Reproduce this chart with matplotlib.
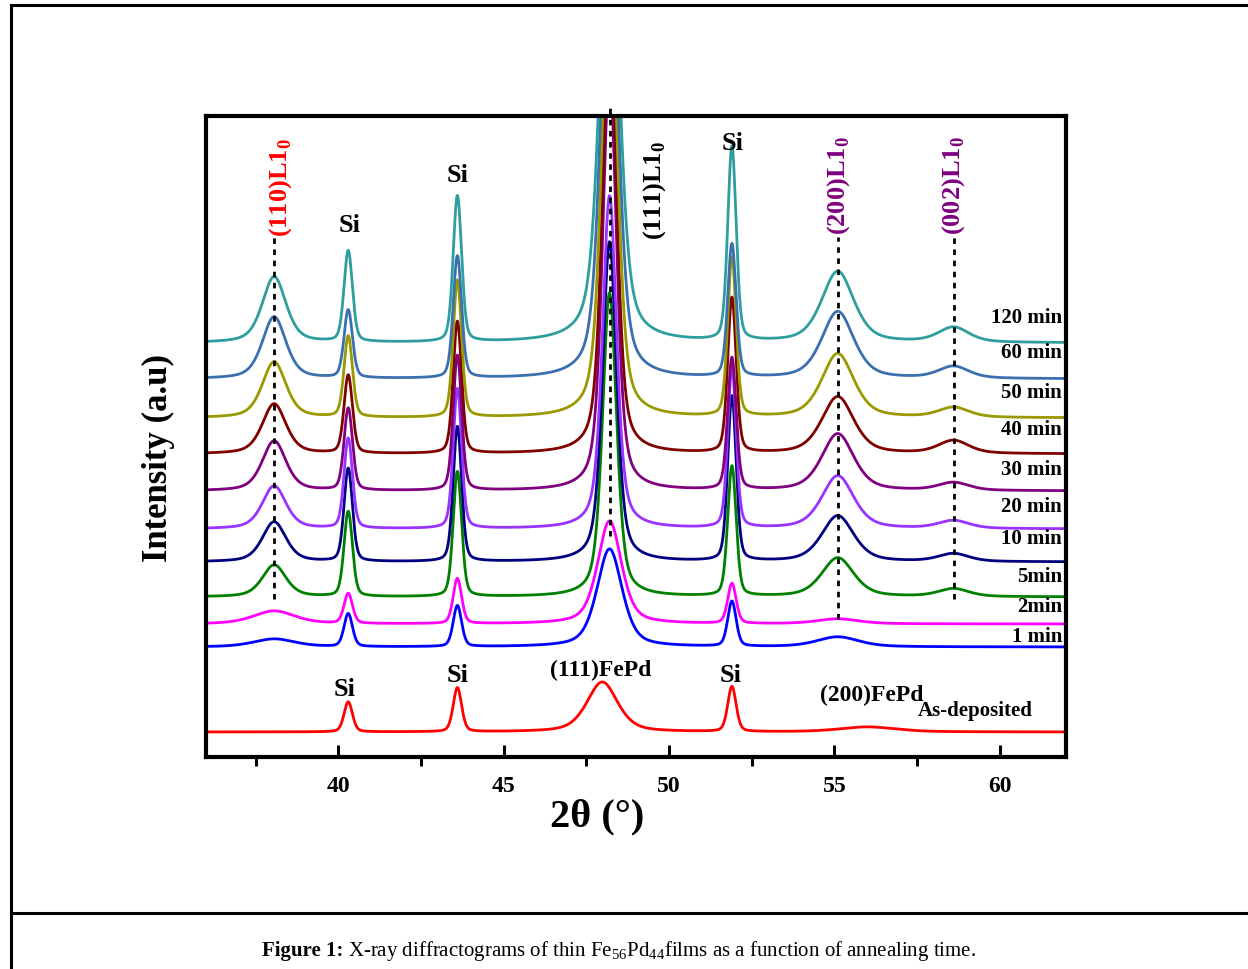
import numpy as np
import matplotlib.pyplot as plt
from matplotlib.lines import Line2D

plt.rcParams['font.family'] = ['Liberation Serif', 'DejaVu Serif']
plt.rcParams['font.weight'] = 'bold'
plt.rcParams['mathtext.fontset'] = 'custom'
plt.rcParams['mathtext.rm'] = 'Liberation Serif:normal'
plt.rcParams['mathtext.bf'] = 'Liberation Serif:bold'

# traces, bottom to top
times = ['As-deposited', '1 min', '2min', '5min', '10 min', '20 min',
         '30 min', '40 min', '50 min', '60 min', '120 min']
colors = ['#ff0000', '#0000ff', '#ff00ff', '#008000', '#000080', '#9933ff',
          '#800080', '#800000', '#999900', '#3b70b0', '#2e9e9e']
offsets = [25, 110, 133, 160, 195, 228, 266, 303, 339, 378, 414]

# peak positions (2theta, deg)
si_pos = [40.3, 43.6, 51.9]
main_pos = [47.98, 48.2, 48.2, 48.2, 48.2, 48.2, 48.2, 48.2, 48.2, 48.2, 48.2]
l10_pos = [38.06, 55.1, 58.6]   # (110), (200), (002)
fepd200_pos = 56.0

# peak heights above baseline (a.u.)
si1_h = [30, 33, 30, 85, 93, 90, 82, 78, 81, 68, 91]
si2_h = [44, 41, 45, 125, 135, 140, 135, 132, 137, 122, 146]
si3_h = [45, 45, 40, 130, 165, 160, 132, 155, 159, 133, 194]
main_h = [50, 98, 103, 304, 320, 333, 420, 440, 460, 470, 480]
p110_h = [0, 8, 13, 32, 40, 43, 50, 50, 56, 62, 66]
p200_h = [0, 10, 5, 39, 46, 53, 57, 57, 64, 67, 71]
p002_h = [0, 0, 0, 8, 8, 8, 8, 13, 10, 12, 15]
fepd200_h = [5, 0, 0, 0, 0, 0, 0, 0, 0, 0, 0]

# peak widths (FWHM, deg)
main_w = [1.1, 0.9, 0.85, 0.5, 0.5, 0.5, 0.5, 0.5, 0.55, 0.6, 0.66]
p110_w = [0.8, 1.5, 1.5, 0.85, 0.85, 0.85, 0.85, 0.85, 0.85, 0.85, 0.85]
p200_w = [1.1, 1.5, 1.5, 1.15, 1.15, 1.15, 1.15, 1.15, 1.15, 1.15, 1.15]
si_w = 0.3
p002_w = 1.1


def pv(x, c, h, w, eta=0.5):
    g = np.exp(-4 * np.log(2) * ((x - c) / w) ** 2)
    l = 1.0 / (1 + (2 * (x - c) / w) ** 2)
    return h * (eta * l + (1 - eta) * g)


x = np.linspace(36, 62, 2601)

fig = plt.figure(figsize=(12.48, 9.70), dpi=100)
ax = fig.add_axes([206 / 1248, 1 - 758 / 970, 860 / 1248, 641 / 970])

for i in range(len(times)):
    y = np.full_like(x, offsets[i], dtype=float)
    for p, h in zip(si_pos, [si1_h[i], si2_h[i], si3_h[i]]):
        y += pv(x, p, h, si_w, 0.3)
    y += pv(x, main_pos[i], main_h[i], main_w[i], 0.5)
    y += pv(x, l10_pos[0], p110_h[i], p110_w[i])
    y += pv(x, l10_pos[1], p200_h[i], p200_w[i])
    y += pv(x, l10_pos[2], p002_h[i], p002_w)
    y += pv(x, fepd200_pos, fepd200_h[i], 2.0)
    ax.plot(x, y, color=colors[i], lw=2.0)

ax.set_xlim(36, 62)
ax.set_ylim(0, 641)
ax.set_yticks([])
ax.set_xticks([40, 45, 50, 55, 60])
ax.set_xticks([37.5, 42.5, 47.5, 52.5, 57.5], minor=True)
ax.tick_params(axis='x', which='major', direction='in', length=8.5, width=2.2,
               labelsize=17, pad=13)
ax.tick_params(axis='x', which='minor', direction='out', length=6.5, width=2.2)
for s in ax.spines.values():
    s.set_linewidth(3.0)
for lab in ax.get_xticklabels():
    lab.set_fontweight('bold')

# dotted guide lines
ax.plot([38.06, 38.06], [158, 521], ls=(0, (2, 2)), color='k', lw=2)
ax.plot([48.2, 48.2], [221, 651], ls=(0, (2, 2)), color='k', lw=2, clip_on=False)
ax.plot([55.1, 55.1], [138, 520], ls=(0, (2, 2)), color='k', lw=2)
ax.plot([58.6, 58.6], [158, 520], ls=(0, (2, 2)), color='k', lw=2)

# phase labels
lf = 19
ax.text(38.25, 521, r'(110)L1$_\mathbf{0}$', rotation=90, ha='center', va='bottom',
        color='#ff0000', fontsize=lf, fontweight='bold')
ax.text(49.56, 518, r'(111)L1$_\mathbf{0}$', rotation=90, ha='center', va='bottom',
        color='black', fontsize=lf, fontweight='bold')
ax.text(55.11, 523, r'(200)L1$_\mathbf{0}$', rotation=90, ha='center', va='bottom',
        color='#800080', fontsize=lf, fontweight='bold')
ax.text(58.6, 523, r'(002)L1$_\mathbf{0}$', rotation=90, ha='center', va='bottom',
        color='#800080', fontsize=lf, fontweight='bold')

for sx, sy in [(40.33, 532), (43.61, 582), (51.92, 615),
               (40.18, 68), (43.61, 82), (51.86, 82)]:
    ax.text(sx, sy, 'Si', ha='center', va='center', fontsize=19, fontweight='bold')
ax.text(47.92, 88, '(111)FePd', ha='center', va='center', fontsize=17, fontweight='bold')
ax.text(56.14, 63, '(200)FePd', ha='center', va='center', fontsize=17, fontweight='bold')
ax.text(59.27, 47, 'As-deposited', ha='center', va='center', fontsize=15, fontweight='bold')

# annealing time labels
time_y = [121, 151, 181, 219, 251, 288, 328, 365, 405, 440]
for t, ty in zip(times[1:], time_y):
    ax.text(61.88, ty, t, ha='right', va='center', fontsize=15, fontweight='bold')

fig.text(597 / 1248, 1 - 817 / 970, '2θ (°)', ha='center', va='center',
         fontsize=29, fontweight='bold')
fig.text(158 / 1248, 1 - 458 / 970, 'Intensity (a.u)', ha='center', va='center',
         rotation=90, fontsize=25, fontweight='bold')

# page frame and caption
fig.add_artist(Line2D([11 / 1248, 11 / 1248], [0, 1 - 6 / 970], color='k', lw=2.2))
fig.add_artist(Line2D([11 / 1248, 1], [1 - 6 / 970, 1 - 6 / 970], color='k', lw=2.2))
fig.add_artist(Line2D([11 / 1248, 1], [1 - 914 / 970, 1 - 914 / 970], color='k', lw=2.2))

cap_y = 1 - 951 / 970
t1 = fig.text(262 / 1248, cap_y, 'Figure 1:', ha='left', va='center',
              fontsize=15, fontweight='bold')
fig.canvas.draw()
bb = t1.get_window_extent(renderer=fig.canvas.get_renderer())
fig.text(bb.x1 / 1248 + 5 / 1248, cap_y,
         r'X-ray diffractograms of thin Fe$_{56}$Pd$_{44}$films as a function of annealing time.',
         ha='left', va='center', fontsize=15, fontweight='normal')

fig.savefig('out.png', dpi=100)
